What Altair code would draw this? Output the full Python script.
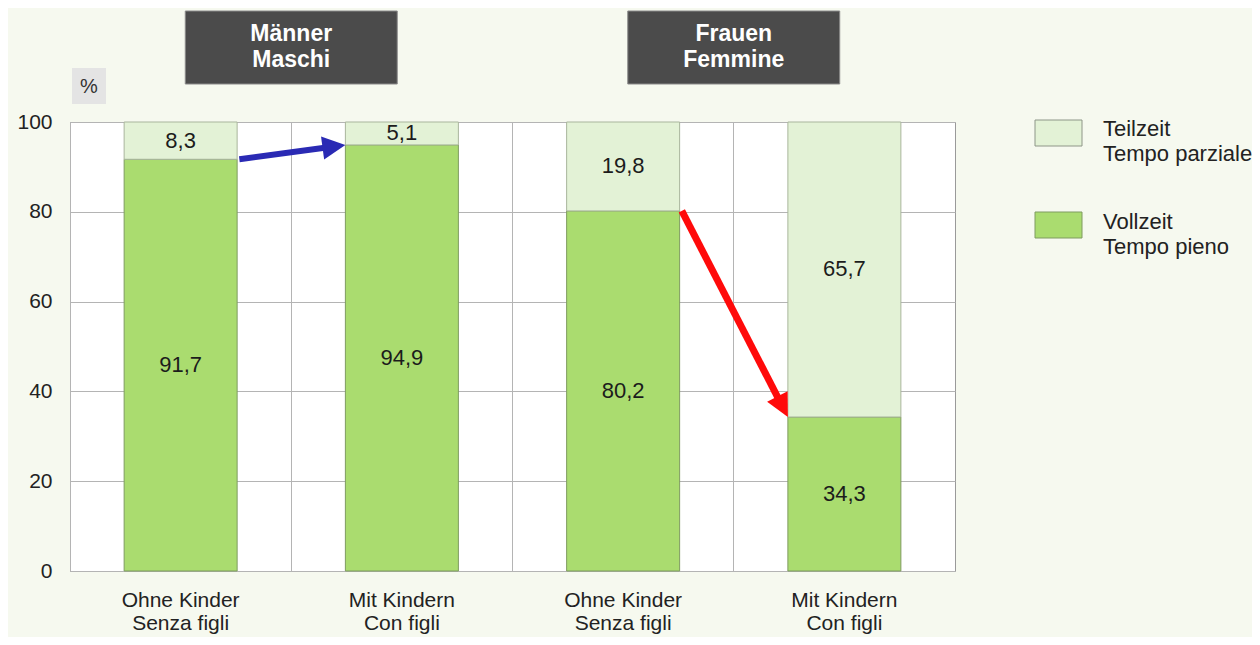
import math
import altair as alt
import pandas as pd

# ---------------- data ----------------
groups_de = ["Männer", "Frauen"]
groups_it = ["Maschi", "Femmine"]
cat_de = ["Ohne Kinder", "Mit Kindern"]
cat_it = ["Senza figli", "Con figli"]
series_de = ["Vollzeit", "Teilzeit"]
series_it = ["Tempo pieno", "Tempo parziale"]
vollzeit = [91.7, 94.9, 80.2, 34.3]   # Männer ohne, Männer mit, Frauen ohne, Frauen mit
teilzeit = [8.3, 5.1, 19.8, 65.7]
y_ticks = [0, 20, 40, 60, 80, 100]
arrow_pairs = [(0, 1), (2, 3)]         # arrow from bar i to bar j (top of Vollzeit)
arrow_colors = ["#2a2ab4", "#ff0a0a"]
arrow_widths = [6, 7]

# ---------------- layout / style ----------------
W, H = 885, 449
BAR = 113
FONT = "Liberation Sans"
C_FULL = "#aadc6f"
C_PART = "#e3f2d6"
S_FULL = "#7f9b60"
S_PART = "#a9b59c"
BG = "#f6f9ef"

keys, rows = [], []
for gi in range(len(groups_de)):
    for ci in range(len(cat_de)):
        idx = gi * 2 + ci
        key = f"{groups_de[gi]}|{cat_de[ci]}|{cat_it[ci]}"
        keys.append(key)
        rows.append({"key": key, "series": series_de[0], "order": 0, "value": vollzeit[idx]})
        rows.append({"key": key, "series": series_de[1], "order": 1, "value": teilzeit[idx]})
df = pd.DataFrame(rows)

n = len(keys)
half_bar = BAR / (W / n) / 2  # in band units


def px(x):
    return x * W / n


def py(y):
    return (100 - y) * H / 100


arrow_rows = []
HEAD = 23
for (i, j), col, sw in zip(arrow_pairs, arrow_colors, arrow_widths):
    x0 = i + 0.5 + half_bar + 0.01
    y0 = vollzeit[i]
    tx = j + 0.5 - half_bar
    ty = vollzeit[j]
    dx = px(tx) - px(x0)
    dy = py(ty) - py(y0)
    L = math.hypot(dx, dy)
    ux, uy = dx / L, dy / L
    ex_px = px(tx) - ux * (HEAD - 4)
    ey_px = py(ty) - uy * (HEAD - 4)
    x1 = ex_px * n / W
    y1 = 100 - ey_px * 100 / H
    ang = math.degrees(math.atan2(dx, -dy)) % 360
    arrow_rows.append({"x0": x0, "y0": y0, "x1": x1, "y1": y1, "tx": tx, "ty": ty,
                       "ang": ang, "col": col, "sw": sw})
adf = pd.DataFrame(arrow_rows)

gdf = pd.DataFrame({
    "glabel": [f"{a}\n{b}" for a, b in zip(groups_de, groups_it)],
    "gc": [1.0 + 2 * k for k in range(len(groups_de))],
})
gdf["gx0"] = gdf["gc"] - 0.479
gdf["gx1"] = gdf["gc"] + 0.479

one = pd.DataFrame({"a": [0]})

xq = alt.Scale(domain=[0, n], nice=False, zero=False)
yscale = alt.Scale(domain=[0, 100], nice=False)

base = alt.Chart(df).transform_stack(
    stack="value", groupby=["key"], as_=["y0", "y1"],
    sort=[alt.SortField("order", order="ascending")]
).transform_calculate(
    mid="(datum.y0 + datum.y1) / 2",
    txt="replace(format(datum.value, '.1f'), '.', ',')"
)

xband = alt.Scale(paddingInner=0, paddingOuter=0)

bars = base.mark_bar(size=BAR, strokeWidth=1).encode(
    x=alt.X("key:N", sort=keys, scale=xband, title=None,
            axis=alt.Axis(labelExpr="slice(split(datum.value, '|'), 1)",
                          grid=True, bandPosition=0, gridColor="#b4b4b4",
                          domain=False, ticks=False, tickSize=0,
                          labelAngle=0, labelFont=FONT, labelFontSize=21,
                          labelColor="#222222", labelLineHeight=23,
                          labelBaseline="top", labelPadding=18)),
    y=alt.Y("y0:Q", scale=yscale, title=None,
            axis=alt.Axis(values=y_ticks, grid=True, gridColor="#b4b4b4",
                          domain=False, ticks=False, tickSize=0,
                          labelFont=FONT, labelFontSize=21, labelColor="#222222",
                          labelPadding=18)),
    y2="y1:Q",
    color=alt.Color("series:N", scale=alt.Scale(domain=series_de, range=[C_FULL, C_PART]), legend=None),
    stroke=alt.Stroke("series:N", scale=alt.Scale(domain=series_de, range=[S_FULL, S_PART]), legend=None),
)

labels = base.mark_text(font=FONT, fontSize=22, color="#1c1c1c").encode(
    x=alt.X("key:N", sort=keys, scale=xband, axis=None),
    y=alt.Y("mid:Q", scale=yscale, axis=None),
    text="txt:N",
)

rules = alt.Chart(adf).mark_rule(strokeCap="butt").encode(
    x=alt.X("x0:Q", scale=xq, axis=None),
    y=alt.Y("y0:Q", scale=yscale, axis=None),
    x2="x1:Q", y2="y1:Q",
    color=alt.Color("col:N", scale=None),
    strokeWidth=alt.StrokeWidth("sw:Q", scale=None),
)

heads = alt.Chart(adf).mark_point(
    shape="M0,0L-1,2L1,2Z", filled=True, size=HEAD ** 2, opacity=1, strokeWidth=0
).encode(
    x=alt.X("tx:Q", scale=xq, axis=None),
    y=alt.Y("ty:Q", scale=yscale, axis=None),
    angle=alt.Angle("ang:Q", scale=None),
    color=alt.Color("col:N", scale=None),
)

boxes = alt.Chart(gdf).mark_rect(color="#4b4b4b", stroke="#8a8a8a", strokeWidth=1).encode(
    x=alt.X("gx0:Q", scale=xq, axis=None), x2="gx1:Q",
    y=alt.value(-111), y2=alt.value(-38),
)
boxtext = alt.Chart(gdf).mark_text(
    lineBreak="\n", font=FONT, fontSize=23, fontWeight="bold", color="white",
    lineHeight=26, baseline="middle"
).encode(
    x=alt.X("gc:Q", scale=xq, axis=None), y=alt.value(-88), text="glabel:N",
)

pbox = alt.Chart(one).mark_rect(color="#e4e4e4").encode(
    x=alt.value(2), x2=alt.value(36), y=alt.value(-54), y2=alt.value(-18))
ptext = alt.Chart(one).mark_text(font=FONT, fontSize=20, color="#333333").encode(
    x=alt.value(19), y=alt.value(-35), text=alt.value("%"))

legend_layers = []
leg_order = [1, 0]  # Teilzeit on top
leg_fill = {0: C_FULL, 1: C_PART}
leg_stroke = {0: S_FULL, 1: "#8e9688"}
for k, si in enumerate(leg_order):
    top = -2 + k * 92
    legend_layers.append(alt.Chart(one).mark_rect(color=leg_fill[si], stroke=leg_stroke[si], strokeWidth=1).encode(
        x=alt.value(965), x2=alt.value(1012), y=alt.value(top), y2=alt.value(top + 26)))
    legend_layers.append(alt.Chart(one).mark_text(
        lineBreak="\n", font=FONT, fontSize=22, color="#222222", align="left",
        baseline="middle", lineHeight=25).encode(
        x=alt.value(1033), y=alt.value(top + 9 + k),
        text=alt.value(f"{series_de[si]}\n{series_it[si]}")))

chart = alt.layer(
    bars, labels, rules, heads, boxes, boxtext, pbox, ptext, *legend_layers
).resolve_scale(
    x="independent", y="independent", color="independent"
).properties(
    width=W, height=H,
    autosize=alt.AutoSizeParams(type="none"),
    padding={"left": 62, "top": 114, "right": 297, "bottom": 66},
    background=BG,
).configure_view(
    fill="white", stroke="#9a9a9a", strokeWidth=1
)

chart.save("out.html", embed_options={"renderer": "svg", "actions": False})
